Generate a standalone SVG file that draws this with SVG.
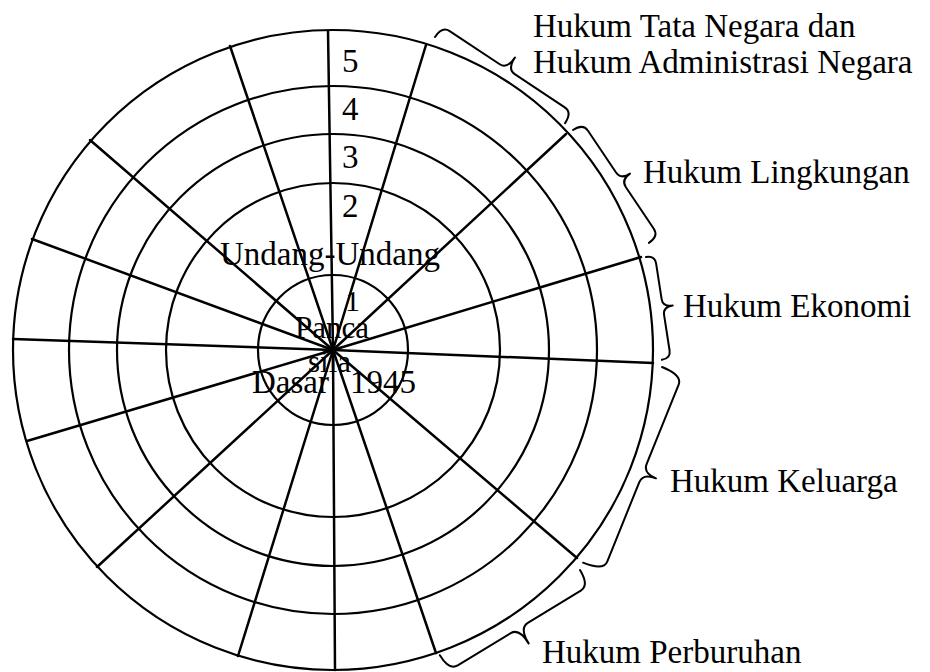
<svg xmlns="http://www.w3.org/2000/svg" width="930" height="672" viewBox="0 0 930 672">
<style>
.ring{fill:none;stroke:#000;stroke-width:2.2}
.spoke{stroke:#000;stroke-width:2.5;stroke-linecap:round}
.brace{fill:none;stroke:#000;stroke-width:2;stroke-linejoin:round;stroke-linecap:round}
text{font-family:"Liberation Serif","Times New Roman",serif;font-size:33px;fill:#000}
</style>
<rect width="930" height="672" fill="#fff"/>
<g id="rings">
<circle class="ring" cx="333" cy="350" r="75"/>
<circle class="ring" cx="333" cy="350" r="167"/>
<circle class="ring" cx="333" cy="350" r="216"/>
<circle class="ring" cx="333" cy="350" r="264"/>
<circle class="ring" cx="333" cy="350" r="320"/>
</g>
<g id="spokes">
<line class="spoke" x1="333" y1="350" x2="328" y2="31"/>
<line class="spoke" x1="333" y1="350" x2="426" y2="45"/>
<line class="spoke" x1="333" y1="350" x2="566" y2="134"/>
<line class="spoke" x1="333" y1="350" x2="641" y2="257"/>
<line class="spoke" x1="333" y1="350" x2="653" y2="363"/>
<line class="spoke" x1="333" y1="350" x2="577" y2="558"/>
<line class="spoke" x1="333" y1="350" x2="436" y2="653"/>
<line class="spoke" x1="333" y1="350" x2="335" y2="670"/>
<line class="spoke" x1="333" y1="350" x2="238" y2="656"/>
<line class="spoke" x1="333" y1="350" x2="97" y2="567"/>
<line class="spoke" x1="333" y1="350" x2="27" y2="441"/>
<line class="spoke" x1="333" y1="350" x2="13" y2="339"/>
<line class="spoke" x1="333" y1="350" x2="32" y2="239"/>
<line class="spoke" x1="333" y1="350" x2="90" y2="140"/>
<line class="spoke" x1="333" y1="350" x2="230" y2="46"/>
</g>
<g id="levels">
<text x="342" y="72">5</text>
<text x="342" y="120">4</text>
<text x="342" y="168">3</text>
<text x="342" y="217">2</text>
<text x="220" y="265">Undang-Undang</text>
<text x="345" y="311" style="font-size:30px">1</text>
<text x="295" y="338" style="font-size:31px">Panca</text>
<text x="308" y="372" style="font-size:31px">sila</text>
<text x="252" y="393">Dasar</text>
<text x="350" y="393">1945</text>
</g>
<g id="braces">
<path class="brace" transform="translate(435,37) rotate(33.5)" d="M0,0 Q0,-13 9,-13 L69,-13 Q78,-13 78,-27 Q78,-13 87,-13 L147,-13 Q156,-13 156,0"/>
<path class="brace" transform="translate(573,130) rotate(56.1)" d="M0,0 Q0,-12 9,-12 L59,-12 Q68,-12 68,-23 Q68,-12 77,-12 L127,-12 Q136,-12 136,0"/>
<path class="brace" transform="translate(646,257) rotate(81.2)" d="M0,0 Q0,-9 8,-9 L44,-9 Q52,-9 52,-19 Q52,-9 60,-9 L96,-9 Q104,-9 104,0"/>
<path class="brace" transform="translate(662,367) rotate(111.96)" d="M0,0 Q0,-22 10,-22 L95.5,-22 Q105.5,-22 105.5,-36 Q105.5,-22 115.5,-22 L201,-22 Q211,-22 211,0"/>
<path class="brace" transform="translate(580,570) rotate(148.7)" d="M0,0 Q0,-18 10,-18 L72,-18 Q82,-18 82,-36 Q82,-18 92,-18 L154,-18 Q164,-18 164,0"/>
</g>
<g id="label-tata-negara">
<text x="533" y="37">Hukum Tata Negara dan</text>
<text x="533" y="73">Hukum Administrasi Negara</text>
</g>
<g id="label-lingkungan"><text x="643" y="183">Hukum Lingkungan</text></g>
<g id="label-ekonomi"><text x="683" y="317">Hukum Ekonomi</text></g>
<g id="label-keluarga"><text x="670" y="492">Hukum Keluarga</text></g>
<g id="label-perburuhan"><text x="542" y="663">Hukum Perburuhan</text></g>
</svg>
